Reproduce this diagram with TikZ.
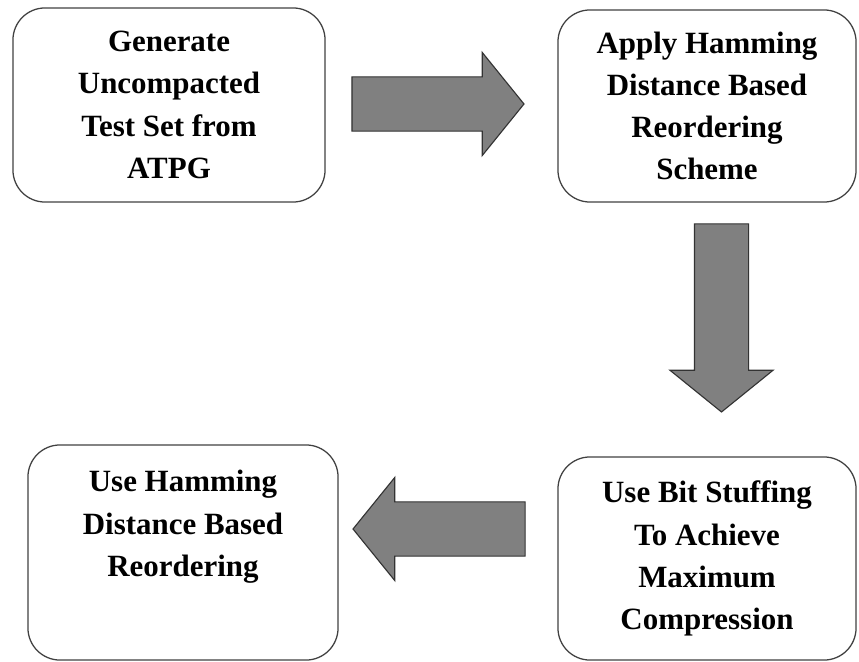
\documentclass[tikz,border=0pt]{standalone}
\usepackage{fontspec}
\setmainfont{Liberation Serif}
\usetikzlibrary{shapes.arrows, positioning}

\begin{document}
\begin{tikzpicture}[
    x=0.025cm, y=-0.025cm,
    font=\fontsize{22}{30}\selectfont\bfseries,
    stage/.style={draw=black!75, line width=0.9pt, rounded corners=0.8cm,
        align=center, inner sep=0pt},
    bigarrow/.style={single arrow, draw=black!80, fill=black!50, line width=0.8pt,
        inner xsep=0pt, inner ysep=0.6625cm, minimum height=4.3cm,
        single arrow head extend=0.6125cm, single arrow tip angle=102},
    ]
    \useasboundingbox (0,0) rectangle (859,662);

    % ==========================================
    % Stages
    % ==========================================
    \node[stage, minimum width=7.8cm, minimum height=4.85cm] (generate) at (169,105)
        {Generate\\Uncompacted\\Test Set from\\ATPG};
    \node[stage, minimum width=7.45cm, minimum height=4.8cm] (apply) at (707,106)
        {Apply Hamming\\Distance Based\\Reordering\\Scheme};
    \node[stage, minimum width=7.45cm, minimum height=5.075cm] (stuffing) at (707,558.5)
        {Use Bit Stuffing\\To Achieve\\Maximum\\Compression};
    \node[stage, minimum width=7.75cm, minimum height=5.375cm] (reorder) at (183,552.5)
        {Use Hamming\\Distance Based\\Reordering\\[0.4cm]\mbox{}};

    % ==========================================
    % Block arrows between stages
    % ==========================================
    \node[bigarrow] (generate-apply) at (427,104) {};
    \node[bigarrow, rotate=-90, minimum height=4.7cm] (apply-stuffing) at (721.5,307) {};
    \node[bigarrow, rotate=180] (stuffing-reorder) at (450,529) {};

\end{tikzpicture}
\end{document}
